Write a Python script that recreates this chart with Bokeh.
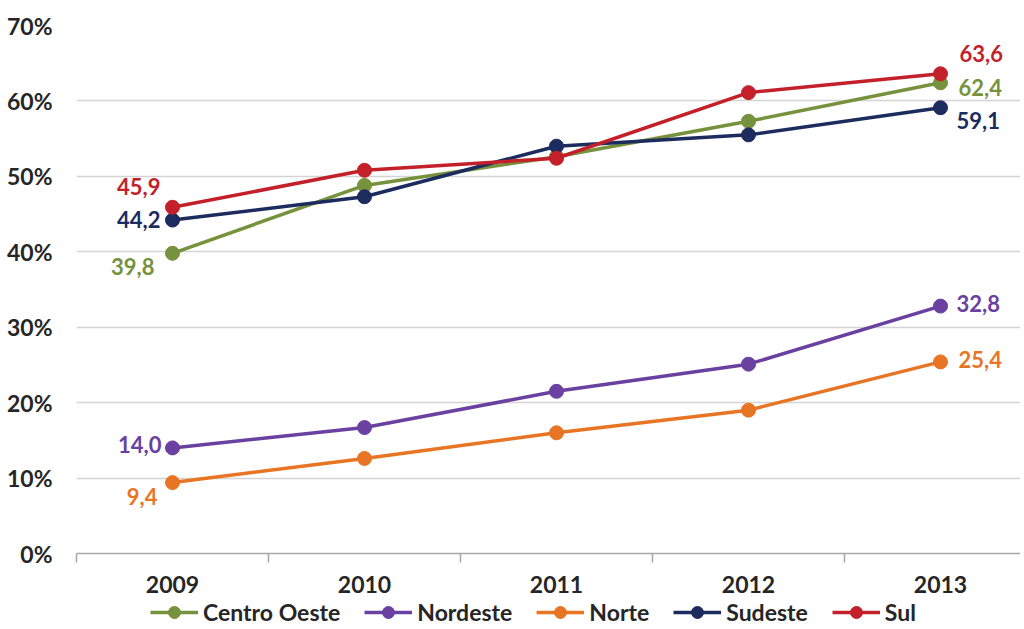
from bokeh.plotting import figure
from bokeh.models import (ColumnDataSource, Range1d, FixedTicker, PrintfTickFormatter,
                          CustomJSTickFormatter, Legend, LegendItem)
from bokeh.layouts import column
from bokeh.core.properties import value
from bokeh.embed import file_html
from bokeh.resources import INLINE

years = ["2009", "2010", "2011", "2012", "2013"]
centro_oeste = [39.8, 48.8, 52.6, 57.3, 62.4]
nordeste = [14.0, 16.7, 21.5, 25.1, 32.8]
norte = [9.4, 12.6, 16.0, 19.0, 25.4]
sudeste = [44.2, 47.3, 54.0, 55.5, 59.1]
sul = [45.9, 50.8, 52.4, 61.1, 63.6]
series_names = ["Centro Oeste", "Nordeste", "Norte", "Sudeste", "Sul"]
y_ticks = [0, 10, 20, 30, 40, 50, 60, 70]

series = [centro_oeste, nordeste, norte, sudeste, sul]
colors = ["#76923C", "#6A40A0", "#E87524", "#1C2C5E", "#C3202A"]

# label offsets (pixels) for first / last data labels: (x_off, y_off)
first_off = [(-18, 13), (-11, -3), (-15, 14), (-12, -1), (-12, -21)]
last_off = [(18, 5), (16, -3), (18, -2), (16, 13), (19, -20)]

FONT = "Lato"
FS = "22px"
FS_AX = "23px"
FS_LEG = "23px"

W = 1020
LEFT = 76
FRAME_W = W - LEFT
p = figure(width=W, height=597, output_backend="svg", toolbar_location=None,
           x_range=Range1d(0, FRAME_W / 192), y_range=Range1d(0, 70),
           min_border_left=LEFT, min_border_right=0, min_border_top=25,
           min_border_bottom=44)
p.outline_line_color = None
p.background_fill_color = "white"
p.border_fill_color = "white"

idx = [i + 0.5 for i in range(len(years))]

# Y axis
p.yaxis.ticker = FixedTicker(ticks=y_ticks)
p.yaxis.formatter = PrintfTickFormatter(format="%d%%")
p.yaxis.axis_line_color = None
p.yaxis.major_tick_line_color = None
p.yaxis.minor_tick_line_color = None
p.yaxis.major_tick_out = 0
p.yaxis.major_label_standoff = 24
p.yaxis.major_label_text_font = FONT
p.yaxis.major_label_text_font_style = "bold"
p.yaxis.major_label_text_font_size = FS_AX
p.yaxis.major_label_text_color = "#262626"

# X axis
p.xaxis.ticker = FixedTicker(ticks=idx, minor_ticks=list(range(len(years) + 1)))
p.xaxis.formatter = CustomJSTickFormatter(args=dict(cats=years),
                                          code="return cats[Math.floor(tick)];")
p.xaxis.axis_line_color = "#A6A6A6"
p.xaxis.axis_line_width = 1.5
p.xaxis.major_tick_line_color = None
p.xaxis.major_tick_out = 0
p.xaxis.major_tick_in = 0
p.xaxis.minor_tick_line_color = "#A6A6A6"
p.xaxis.minor_tick_line_width = 1.5
p.xaxis.minor_tick_out = 9
p.xaxis.minor_tick_in = 0
p.xaxis.major_label_standoff = 13
p.xaxis.major_label_text_font = FONT
p.xaxis.major_label_text_font_style = "bold"
p.xaxis.major_label_text_font_size = FS_AX
p.xaxis.major_label_text_color = "#262626"

p.xgrid.grid_line_color = None
p.ygrid.ticker = FixedTicker(ticks=y_ticks[1:])
p.ygrid.grid_line_color = "#D4D4D4"
p.ygrid.grid_line_width = 1.5

# legend-only strip below the chart (its renderers fall outside its ranges)
q = figure(width=W, height=30, output_backend="svg", toolbar_location=None,
           x_range=Range1d(0, 1), y_range=Range1d(0, 1),
           min_border_left=LEFT, min_border_right=0, min_border_top=0,
           min_border_bottom=0)
q.axis.visible = False
q.grid.grid_line_color = None
q.outline_line_color = None

items = []
for k, (name, vals, col) in enumerate(zip(series_names, series, colors)):
    src = ColumnDataSource(dict(x=idx, y=vals))
    p.line("x", "y", source=src, line_color=col, line_width=3.5)
    p.scatter("x", "y", source=src, size=14, fill_color=col, line_color=col)
    for j, (xo, yo), align in ((0, first_off[k], "right"), (len(vals) - 1, last_off[k], "left")):
        lab = ColumnDataSource(dict(x=[idx[j]], y=[vals[j]],
                                    t=[f"{vals[j]:.1f}".replace(".", ",")]))
        p.text("x", "y", text="t", source=lab, text_color=col,
               text_font=value(FONT), text_font_style="bold", text_font_size=FS,
               text_align=align, text_baseline="middle", x_offset=xo, y_offset=yo)
    ln = q.line("x", "y", source=src, line_color=col, line_width=3.5)
    sc = q.scatter("x", "y", source=src, size=12, fill_color=col, line_color=col)
    items.append(LegendItem(label=name, renderers=[ln, sc]))

lg = Legend(items=items, location=(150 - LEFT, 0), orientation="horizontal",
            glyph_width=48, glyph_height=30, label_standoff=5,
            label_height=24, padding=0, margin=0, spacing=24,
            border_line_color=None, background_fill_alpha=0,
            label_text_font=FONT, label_text_font_style="bold",
            label_text_font_size=FS_LEG, label_text_color="#262626")
q.add_layout(lg, "center")

layout = column(p, q, spacing=0)
open("out.html", "w").write(file_html(layout, INLINE))
